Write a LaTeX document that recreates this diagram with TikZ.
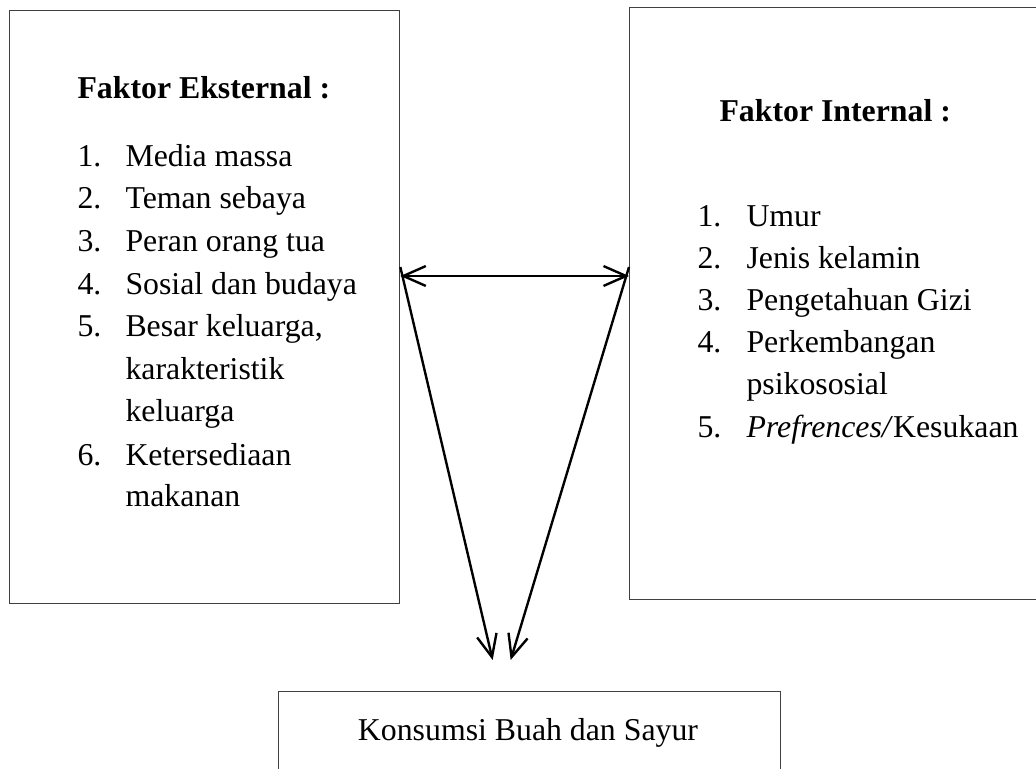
\documentclass[tikz,border=0pt]{standalone}
\usepackage{fontspec}
\setmainfont{Liberation Serif}
\usetikzlibrary{arrows.meta}
\newlength{\pxl}
\setlength{\pxl}{0.3774pt}
\tikzset{
  frame/.style={draw=black!75, line width=0.5pt, rectangle, inner sep=0pt, anchor=north west},
  txt/.style={inner sep=0pt, anchor=base west, font=\fontsize{12}{14}\selectfont},
  conn/.style={line width=0.9pt},
  >={Straight Barb[length=8.5pt,width=7.5pt]}
}
\begin{document}
\begin{tikzpicture}[x=\pxl, y=-\pxl]
\path[use as bounding box, clip] (0,0) rectangle (1036,769);
% boxes
\node[frame, minimum width=390*\pxl, minimum height=593*\pxl] (ekst) at (9,10) {};
\node[frame, minimum width=420*\pxl, minimum height=592*\pxl] (intr) at (629,7) {};
\node[frame, minimum width=502*\pxl, minimum height=120*\pxl] (kons) at (278,691) {};
% left list
\node[txt] (ekst-head) at (77,99) {\textbf{Faktor Eksternal :}};
\foreach \y/\n/\t [count=\i] in {167/1./Media massa, 209/2./Teman sebaya, 252/3./Peran orang tua,
  295/4./Sosial dan budaya, 337/5./{Besar keluarga,}, 380//karakteristik, 422//keluarga,
  465/6./Ketersediaan, 507//makanan}
{
  \node[txt] (ekst-n\i) at (77,\y) {\n};
  \node[txt] (ekst-t\i) at (125,\y) {\t};
}
% right list
\node[txt] (intr-head) at (719,122) {\textbf{Faktor Internal :}};
\foreach \y/\n/\t [count=\i] in {227/1./Umur, 269/2./Jenis kelamin, 311/3./Pengetahuan Gizi,
  353/4./Perkembangan, 395//psikososial, 438/5./{\textit{Prefrences/}Kesukaan}}
{
  \node[txt] (intr-n\i) at (697,\y) {\n};
  \node[txt] (intr-t\i) at (746,\y) {\t};
}
\node[txt, anchor=base] (kons-text) at (528,740) {Konsumsi Buah dan Sayur};
% connectors
\coordinate (link) at (0,276);
\coordinate (fork) at (0,267);
\draw[conn, <->] (ekst.east |- link) -- (intr.west |- link);
\draw[conn, ->] (ekst.east |- fork) -- ([shift={(-37,-31)}]kons.north);
\draw[conn, ->] (intr.west |- fork) -- ([shift={(-19,-31)}]kons.north);
\end{tikzpicture}
\end{document}
